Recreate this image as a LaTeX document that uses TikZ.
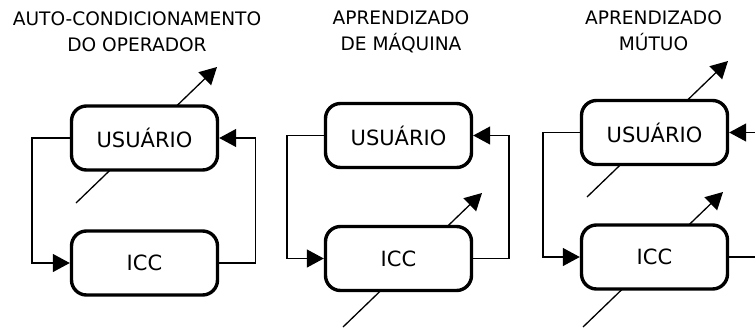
\documentclass[tikz,border=0pt]{standalone}
\usepackage{fontspec}
\setmainfont{DejaVu Sans}
\usetikzlibrary{arrows.meta}
\begin{document}
\begin{tikzpicture}[x=1pt,y=-1pt,
  box/.style={draw=black,fill=white,line width=3.4pt,rounded corners=15pt,
    minimum width=146pt,minimum height=64pt,inner sep=0pt,
    font=\fontsize{21}{24}\selectfont},
  ttl/.style={align=center,anchor=base,inner sep=0pt,
    font=\fontsize{18.6}{26}\selectfont},
  conn/.style={draw=black,line width=1.3pt},
  tip/.style={-{Triangle[length=17pt,width=18pt]}}
]
\useasboundingbox (0,0) rectangle (755,327);

% titles (anchor = baseline of the last line)
\node[ttl] (t1) at (137,51) {AUTO-CONDICIONAMENTO\\DO OPERADOR};
\node[ttl] (t2) at (401,50) {APRENDIZADO\\DE MÁQUINA};
\node[ttl] (t3) at (653.5,50) {APRENDIZADO\\MÚTUO};

% diagonal (adjustable) arrows, drawn behind the boxes
\coordinate (d1a) at (76,203);  \coordinate (d1b) at (217,67);
\coordinate (d2a) at (343,327); \coordinate (d2b) at (482,193);
\coordinate (d3a) at (587,197); \coordinate (d3b) at (728,61);
\coordinate (d4a) at (583,327); \coordinate (d4b) at (723,192);
\draw[conn,tip] (d1a) -- (d1b);
\draw[conn,tip] (d2a) -- (d2b);
\draw[conn,tip] (d3a) -- (d3b);
\draw[conn,tip] (d4a) -- (d4b);

% boxes
\node[box] (u1) at (144.5,138) {USUÁRIO};
\node[box] (i1) at (144.5,263) {ICC};
\node[box] (u2) at (398.5,135.5) {USUÁRIO};
\node[box] (i2) at (398.5,258.5) {ICC};
\node[box] (u3) at (654.5,132.5) {USUÁRIO};
\node[box] (i3) at (654.5,257) {ICC};

% loop corner coordinates
\coordinate (L1) at (32,200);
\coordinate (R1) at (255.5,200);
\coordinate (L2) at (287,200);
\coordinate (R2) at (509,200);
\coordinate (L3) at (543,200);
\coordinate (E3a) at (755,257);
\coordinate (E3b) at (755,132.5);

% loops
\draw[conn,tip] (u1.west) -| (L1) |- (i1.west);
\draw[conn,tip] (i1.east) -| (R1) |- (u1.east);
\draw[conn,tip] (u2.west) -| (L2) |- (i2.west);
\draw[conn,tip] (i2.east) -| (R2) |- (u2.east);
\draw[conn,tip] (u3.west) -| (L3) |- (i3.west);
\draw[conn] (i3.east) -- (E3a);
\draw[conn,tip] (E3b) -- (u3.east);
\end{tikzpicture}
\end{document}
